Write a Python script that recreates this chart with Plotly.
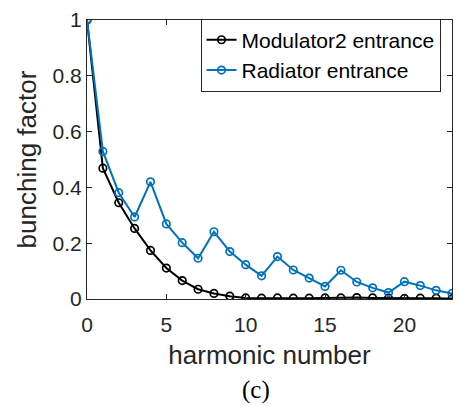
import plotly.graph_objects as go

harmonic = list(range(0, 24))
modulator2 = [1.0, 0.469, 0.345, 0.253, 0.174, 0.111, 0.066, 0.035, 0.020, 0.010,
              0.004, 0.003, 0.004, 0.003, 0.003, 0.004, 0.004, 0.005, 0.004, 0.003,
              0.002, 0.003, 0.003, 0.001]
radiator = [1.0, 0.529, 0.381, 0.294, 0.420, 0.269, 0.202, 0.146, 0.241, 0.170,
            0.123, 0.083, 0.152, 0.104, 0.075, 0.045, 0.103, 0.061, 0.040, 0.023,
            0.062, 0.048, 0.031, 0.020]
x_ticks = [0, 5, 10, 15, 20]
y_ticks = [0, 0.2, 0.4, 0.6, 0.8, 1]
y_tick_labels = ["0", "0.2", "0.4", "0.6", "0.8", "1"]

AX = "#262626"
FONT = "Liberation Sans, Arial, sans-serif"

fig = go.Figure()
fig.add_trace(go.Scatter(
    x=harmonic, y=modulator2, mode="lines+markers", name="Modulator2 entrance",
    line=dict(color="#000000", width=2),
    marker=dict(symbol="circle-open", size=7.5, color="#000000", line=dict(width=1.7)),
))
fig.add_trace(go.Scatter(
    x=harmonic, y=radiator, mode="lines+markers", name="Radiator entrance",
    line=dict(color="#0072BD", width=2),
    marker=dict(symbol="circle-open", size=7.5, color="#0072BD", line=dict(width=1.7)),
))

fig.update_layout(
    width=461, height=406,
    margin=dict(l=87, r=8, t=10, b=107),
    paper_bgcolor="white", plot_bgcolor="white",
    font=dict(family=FONT, color=AX),
    showlegend=True,
    legend=dict(
        x=0.311, y=1.005, xanchor="left", yanchor="top",
        bgcolor="white", bordercolor=AX, borderwidth=1,
        font=dict(size=21, color="#000000", family=FONT),
        tracegroupgap=0, itemwidth=30,
    ),
    xaxis=dict(
        range=[0, 23], tickvals=x_ticks, ticks="inside", ticklen=5,
        tickcolor=AX, showline=True, linecolor=AX, linewidth=1, mirror="ticks",
        showgrid=False, zeroline=False, ticklabelstandoff=7,
        ticklabeloverflow="allow",
        tickfont=dict(size=21, color=AX),
        title=dict(text="harmonic number", font=dict(size=26, color=AX), standoff=10),
    ),
    yaxis=dict(
        range=[0, 1], tickvals=y_ticks, ticktext=y_tick_labels, ticks="inside", ticklen=5,
        tickcolor=AX, showline=True, linecolor=AX, linewidth=1, mirror="ticks",
        showgrid=False, zeroline=False, ticklabeloverflow="allow",
        tickfont=dict(size=21, color=AX),
        title=dict(text="bunching factor", font=dict(size=26, color=AX), standoff=8),
    ),
    annotations=[dict(
        text="(c)", xref="paper", yref="paper", x=0.462, y=-0.325,
        xanchor="center", yanchor="middle", showarrow=False,
        font=dict(family="Liberation Serif, Times New Roman, serif", size=25, color="#000000"),
    )],
)

fig.write_html("out.html")
